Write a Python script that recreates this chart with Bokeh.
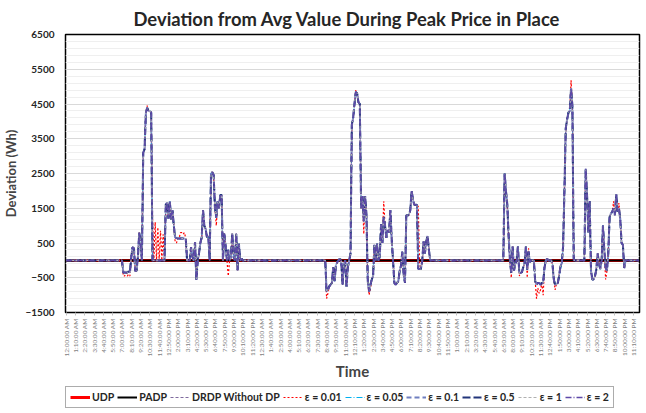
import math
from bokeh.plotting import figure
from bokeh.layouts import column
from bokeh.models import FixedTicker, Legend, LegendItem, Range1d
from bokeh.embed import file_html
from bokeh.resources import INLINE

# ---------------- data (10-minute steps over three days, 432 points) ----------------
TICK_LABELS = [
    "12:00:00 AM", "1:10:00 AM", "2:20:00 AM", "3:30:00 AM", "4:40:00 AM", "5:50:00 AM",
    "7:00:00 AM", "8:10:00 AM", "9:20:00 AM", "10:30:00 AM", "11:40:00 AM", "12:50:00 PM",
    "2:00:00 PM", "3:10:00 PM", "4:20:00 PM", "5:30:00 PM", "6:40:00 PM", "7:50:00 PM",
    "9:00:00 PM", "10:10:00 PM", "11:20:00 PM",
    "12:30:00 AM", "1:40:00 AM", "2:50:00 AM", "4:00:00 AM", "5:10:00 AM", "6:20:00 AM",
    "7:30:00 AM", "8:40:00 AM", "9:50:00 AM", "11:00:00 AM", "12:10:00 PM", "1:20:00 PM",
    "2:30:00 PM", "3:40:00 PM", "4:50:00 PM", "6:00:00 PM", "7:10:00 PM", "8:20:00 PM",
    "9:30:00 PM", "10:40:00 PM", "11:50:00 PM",
    "1:00:00 AM", "2:10:00 AM", "3:20:00 AM", "4:30:00 AM", "5:40:00 AM", "6:50:00 AM",
    "8:00:00 AM", "9:10:00 AM", "10:20:00 AM", "11:30:00 AM", "12:40:00 PM", "1:50:00 PM",
    "3:00:00 PM", "4:10:00 PM", "5:20:00 PM", "6:30:00 PM", "7:40:00 PM", "8:50:00 PM",
    "10:00:00 PM", "11:10:00 PM",
]
Y_TICKS = [-1500, -500, 500, 1500, 2500, 3500, 4500, 5500, 6500]

DAY1 = ([0] * 43 +
        [-350, -350, -350, -350, -320, -350, 100, 380, 350, -310, -300, 100, 800, 500, 0,
         3100, 3200, 4250, 4390, 4300, 4300, 4250] +
        [0] * 10 +
        [1610, 1660, 1200, 1700, 1170, 1440, 1000, 660, 640, 630, 630, 630, 630, 630, 630, 630] +
        [0] * 3 +
        [380, 100, 0, 530, -560, 0, 200, 500, 660, 1440, 1000, 900, 660, 700, 0, 2500, 2540,
         2450, 1500, 1230, 1700, 1500, 1880, 1880, 0, 770, 400, 0, 300, 0, 100, 770, 100, 0,
         770, -280, 480, 0, 50] +
        [0] * 11)
DAY2 = ([0] * 52 +
        [-900, -850, -750, -700, -650, -200, -600, -150, -50, 0, 50, 0, -700, -100, 0, -760,
         -200, 0, 200, 3900, 4100, 4500, 4850, 4800, 4550, 4500, 1500, 1850, 1130, 1850, 1300,
         -600, -900, -700, -550, -450, 450, 0, 480, 0, 100, 1040, 500, 1250, 1000, 650, 870,
         800, 1450, 600, 0, -650, -700, -650, -600, -300, -150, 250, -400, -650, 1300, 1300,
         1300, 1450, 2000, 1750, 1600, 1600, 1600, -250, -250, -250, 0, 550, 200, 550, 700, 300] +
        [0] * 14)
DAY3 = ([0] * 41 +
        [0, 2500, 2000, 1600, 700, 0, -360, 400, -300, -100, 0, 400, -360, -360, -340, -200,
         -80, 400, -270, 250, -50, 0, 0, 0, -600, -700, -650, -650, -700, -650, -650, -200, 0,
         50, 0, 0, 0, -100, -550, -700, -680, -650, -450, -180, -80, 400, 2000, 3800, 4050,
         4250, 4300, 4950, 4430, 0, 0, 0, 0, 0, 0, 0, 0, 0, 2640, 1900, 800, 1700, -300, -550,
         -550, -450, -270, 200, -100, -250, 0, 1000, 300, -200, -300, 200, 1250, 1350, 1400,
         1500, 1300, 1900, 1400, 1500, 1200, 500, 450, -220] +
        [0] * 11)

DRDP = DAY1 + DAY2 + DAY3
UDP = [0] * 432
PADP = [0] * 432

# points where the eps = 0.01 curve departs from the others
EPS_001_DIFF = {43: -450, 44: -450, 46: -450, 47: -400, 48: -450, 61: 4450,
                65: 1230, 67: 1100, 69: 950, 71: 850, 73: 750,
                82: 550, 83: 500, 86: 800, 87: 800, 88: 750, 89: 800, 113: 1000, 122: -450,
                196: -1100, 197: -950, 218: 4900, 224: 760, 228: -1000, 229: -800,
                239: 1700, 265: 1550, 266: -100,
                335: -500, 341: -450, 347: -500, 348: 350, 354: -1100, 355: -800, 356: -950,
                357: -850, 359: -1000, 368: -850, 380: 5180, 406: -550, 412: 1700, 416: 1650}
EPS_005_DIFF = {52: -150, 254: -150, 372: -250}

EPS_001 = [EPS_001_DIFF.get(i, v) for i, v in enumerate(DRDP)]
EPS_005 = [EPS_005_DIFF.get(i, v) for i, v in enumerate(DRDP)]
EPS_01 = list(DRDP)
EPS_05 = list(DRDP)
EPS_1 = list(DRDP)
EPS_2 = list(DRDP)

IDX = list(range(len(DRDP)))

SERIES = [
    ("UDP", UDP, "#FF0000", 3.0, "solid"),
    ("PADP", PADP, "#000000", 2.0, "solid"),
    ("DRDP Without DP", DRDP, "#7F6A9E", 1.2, "3 2"),
    ("ε = 0.01", EPS_001, "#FF0000", 1.2, "2 2"),
    ("ε = 0.05", EPS_005, "#00B0F0", 1.2, "6 2 1 2"),
    ("ε = 0.1", EPS_01, "#6F7FC0", 2.0, "5 3"),
    ("ε = 0.5", EPS_05, "#22357A", 2.0, "8 3"),
    ("ε = 1", EPS_1, "#B0B0B0", 1.2, "3 2"),
    ("ε = 2", EPS_2, "#5E48A8", 1.4, "6 2 1 2"),
]

FONT = "Lato"

p = figure(frame_width=574, frame_height=278, output_backend="svg", toolbar_location=None,
           x_range=Range1d(-0.5, 431.5), y_range=Range1d(-1500, 6500),
           min_border_left=51, min_border_right=5, min_border_top=30, min_border_bottom=62)
p.background_fill_color = "white"
p.border_fill_color = "white"
p.outline_line_color = "black"
p.outline_line_width = 1.5

p.title.text = "Deviation from Avg Value During Peak Price in Place"
p.title.align = "left"
p.title.offset = 68
p.title.text_font = FONT
p.title.text_font_size = "18.4px"
p.title.text_font_style = "bold"
p.title.text_color = "#262626"

for name, vals, color, width, dash in SERIES:
    p.line(IDX, vals, line_color=color, line_width=width, line_dash=dash)

# axes
p.xaxis.ticker = FixedTicker(ticks=list(range(0, 432, 7)), minor_ticks=[])
p.xaxis.major_label_overrides = {t: TICK_LABELS[k] for k, t in enumerate(range(0, 432, 7))}
p.xaxis.major_label_orientation = math.pi / 2
p.xaxis.major_label_text_font = FONT
p.xaxis.major_label_text_font_size = "6.5px"
p.xaxis.major_label_text_color = "#7F7F7F"
p.xaxis.major_label_standoff = 3
p.xaxis.major_tick_in = 0
p.xaxis.major_tick_out = 3
p.xaxis.major_tick_line_color = "#BFBFBF"
p.xaxis.axis_line_color = None
p.xaxis.axis_label = "Time"
p.xaxis.axis_label_text_font = FONT
p.xaxis.axis_label_text_font_size = "15px"
p.xaxis.axis_label_text_font_style = "bold"
p.xaxis.axis_label_standoff = 3

p.yaxis.ticker = FixedTicker(ticks=Y_TICKS, minor_ticks=list(range(-1500, 6501, 200)))
p.yaxis.major_label_text_font = FONT
p.yaxis.major_label_text_font_size = "10px"
p.yaxis.major_label_text_font_style = "bold"
p.yaxis.major_label_text_color = "#262626"
p.yaxis.major_tick_in = 0
p.yaxis.major_tick_out = 0
p.yaxis.minor_tick_line_color = None
p.yaxis.axis_line_color = None
p.yaxis.major_label_standoff = 7
p.yaxis.axis_label = "Deviation (Wh)"
p.yaxis.axis_label_text_font = FONT
p.yaxis.axis_label_text_font_size = "13px"
p.yaxis.axis_label_text_font_style = "bold"
p.yaxis.axis_label_standoff = 3

p.xgrid.grid_line_color = None
p.ygrid.grid_line_color = "#D9D9D9"
p.ygrid.minor_grid_line_color = "#EFEFEF"

# ---------------- legend strip below the chart ----------------
# the same series are drawn again here, but the ranges keep them out of view:
# only their legend entries show
lg = figure(width=630, height=27, output_backend="svg", toolbar_location=None,
            x_range=Range1d(1000, 1001), y_range=Range1d(100000, 100001),
            min_border_left=0, min_border_right=0, min_border_top=0, min_border_bottom=0)
lg.axis.visible = False
lg.grid.visible = False
lg.outline_line_color = None
lg.border_fill_color = "white"
items = []
for name, vals, color, width, dash in SERIES:
    r = lg.line(IDX, vals, line_color=color, line_width=width, line_dash=dash)
    items.append(LegendItem(label=name, renderers=[r]))
legend = Legend(items=items, orientation="horizontal", location=(0, 2),
                label_text_font=FONT, label_text_font_size="10.5px",
                label_text_font_style="bold", label_text_color="#262626",
                glyph_width=20, glyph_height=10, label_standoff=2, spacing=3,
                padding=4, margin=0, border_line_color="#595959", border_line_width=1)
lg.add_layout(legend, "center")

layout = column(p, lg, spacing=0)
open("out.html", "w").write(file_html(layout, INLINE))
